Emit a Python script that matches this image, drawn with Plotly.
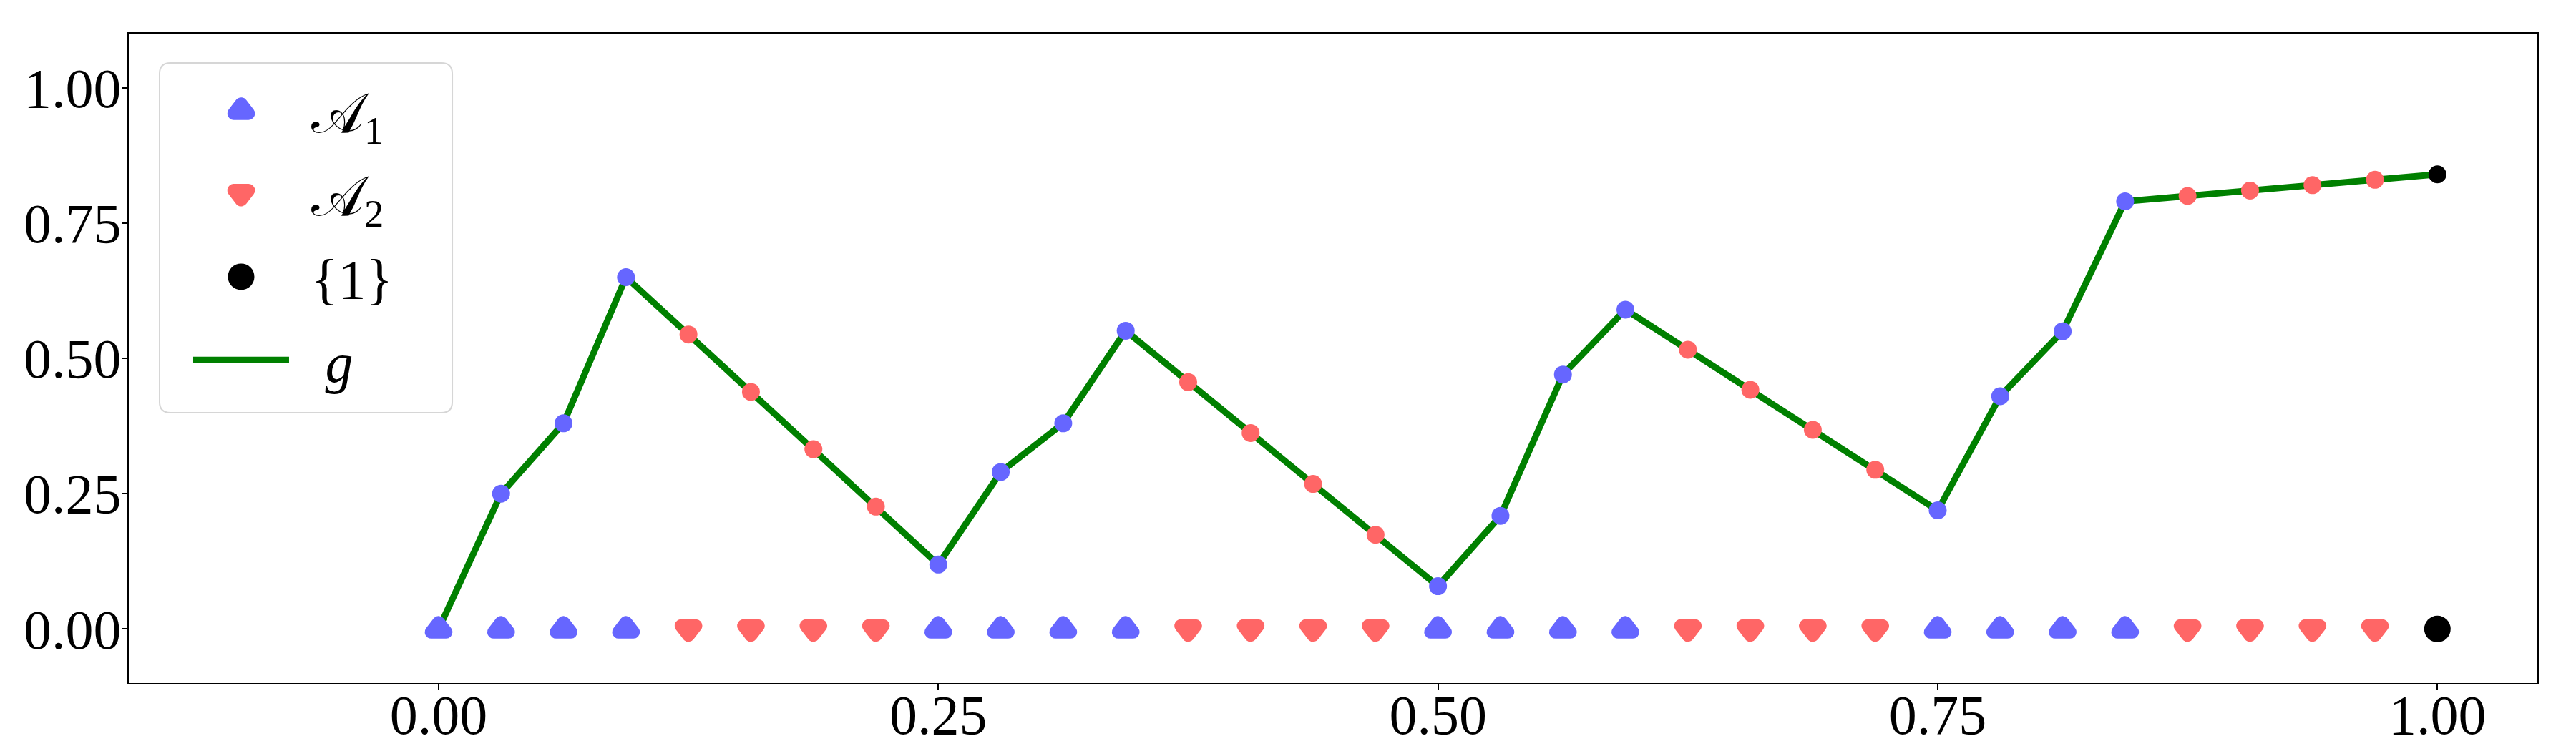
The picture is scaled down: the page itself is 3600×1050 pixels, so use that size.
import plotly.graph_objects as go

# ---- data ----
x_grid = [0.0, 0.03125, 0.0625, 0.09375, 0.125, 0.15625, 0.1875, 0.21875,
          0.25, 0.28125, 0.3125, 0.34375, 0.375, 0.40625, 0.4375, 0.46875,
          0.5, 0.53125, 0.5625, 0.59375, 0.625, 0.65625, 0.6875, 0.71875,
          0.75, 0.78125, 0.8125, 0.84375, 0.875, 0.90625, 0.9375, 0.96875,
          1.0]
g_values = [0.000, 0.250, 0.380, 0.650, 0.544, 0.438, 0.332, 0.226,
            0.119, 0.290, 0.380, 0.551, 0.456, 0.362, 0.268, 0.174,
            0.079, 0.209, 0.470, 0.590, 0.516, 0.442, 0.368, 0.294,
            0.219, 0.430, 0.550, 0.790, 0.800, 0.810, 0.820, 0.830,
            0.840]
membership = ["A1", "A1", "A1", "A1", "A2", "A2", "A2", "A2",
              "A1", "A1", "A1", "A1", "A2", "A2", "A2", "A2",
              "A1", "A1", "A1", "A1", "A2", "A2", "A2", "A2",
              "A1", "A1", "A1", "A1", "A2", "A2", "A2", "A2",
              "one"]
baseline = 0.0
x_ticks = [0.0, 0.25, 0.5, 0.75, 1.0]
y_ticks = [0.0, 0.25, 0.5, 0.75, 1.0]

SP = "\u2004"
names = {"A1": SP + "𝒜<sub>1</sub>", "A2": SP + "𝒜<sub>2</sub>", "one": SP + "{1}"}
colors = {"A1": "#6666ff", "A2": "#ff6666", "one": "#000000"}
base_symbol = {"A1": "triangle-up", "A2": "triangle-down", "one": "circle"}

FONT = "Liberation Serif, DejaVu Serif, serif"

fig = go.Figure()

# g line
fig.add_trace(go.Scatter(x=x_grid, y=g_values, mode="lines", name=SP + " <i>g</i>",
                         line=dict(color="#008000", width=9), legendrank=4,
                         legendgroup="g"))

# markers on the line
for key in ["A1", "A2", "one"]:
    xs = [x for x, m in zip(x_grid, membership) if m == key]
    ys = [y for y, m in zip(g_values, membership) if m == key]
    fig.add_trace(go.Scatter(x=xs, y=ys, mode="markers", showlegend=False,
                             marker=dict(color=colors[key], size=25, line=dict(width=0))))

# markers on the baseline
for rank, key in enumerate(["A1", "A2", "one"]):
    xs = [x for x, m in zip(x_grid, membership) if m == key]
    ys = [baseline for m in membership if m == key]
    if key == "one":
        mk = dict(color=colors[key], size=37, symbol="circle", line=dict(width=0))
    else:
        mk = dict(color=colors[key], size=18, symbol=base_symbol[key],
                  line=dict(width=18, color=colors[key]))
    fig.add_trace(go.Scatter(x=xs, y=ys, mode="markers", name=names[key],
                             marker=mk, legendrank=rank + 1, legendgroup=key))

# legend frame (rounded box) in paper coordinates
bx0, bx1, by0, by1 = 0.01277, 0.1343, 0.4163, 0.9548
rx, ry = 0.0045, 0.0165
frame = (f"M {bx0+rx},{by1} L {bx1-rx},{by1} Q {bx1},{by1} {bx1},{by1-ry} "
         f"L {bx1},{by0+ry} Q {bx1},{by0} {bx1-rx},{by0} L {bx0+rx},{by0} "
         f"Q {bx0},{by0} {bx0},{by0+ry} L {bx0},{by1-ry} Q {bx0},{by1} {bx0+rx},{by1} Z")

fig.update_layout(
    width=3600, height=1050,
    margin=dict(l=180, r=54, t=47, b=95),
    paper_bgcolor="white", plot_bgcolor="white",
    font=dict(family=FONT, size=78, color="black"),
    showlegend=True,
    legend=dict(x=0.02525, y=0.945, xanchor="left", yanchor="top",
                bgcolor="rgba(0,0,0,0)", borderwidth=0,
                font=dict(family=FONT, size=78), itemwidth=134,
                traceorder="grouped", tracegroupgap=12),
    shapes=[dict(type="path", xref="paper", yref="paper", path=frame,
                 line=dict(color="#d6d6d6", width=2), fillcolor="rgba(255,255,255,0.8)",
                 layer="below")],
)
fig.update_xaxes(range=[-0.155, 1.05], tickvals=x_ticks, tickformat=".2f",
                 ticks="outside", ticklen=8, tickwidth=2, tickcolor="black",
                 showline=True, linecolor="black", linewidth=2, mirror=True,
                 showgrid=False, zeroline=False, automargin=False,
                 ticklabelstandoff=-33)
fig.update_yaxes(range=[-0.1, 1.1], tickvals=y_ticks, tickformat=".2f",
                 ticks="outside", ticklen=8, tickwidth=2, tickcolor="black",
                 showline=True, linecolor="black", linewidth=2, mirror=True,
                 showgrid=False, zeroline=False, automargin=False,
                 ticklabelstandoff=-15)

post = """
(function(){
var s = document.createElement('style');
s.innerHTML = 'path.point, path.scatterpts { stroke-linejoin: round; }';
document.head.appendChild(s);
var gd = document.getElementById('{plot_id}');
function fixLegend(){
  var layers = gd.querySelectorAll('.scatterlayer .trace');
  gd.querySelectorAll('.legend .traces').forEach(function(item){
    var dat = item.__data__; if(!dat || !dat[0]) return;
    var tr = dat[0].trace; if(!tr) return;
    var lp = item.querySelector('path.scatterpts'); if(!lp) return;
    var layer = layers[tr.index]; if(!layer) return;
    var pp = layer.querySelector('path.point'); if(!pp) return;
    lp.setAttribute('d', pp.getAttribute('d'));
    lp.style.strokeWidth = pp.style.strokeWidth;
  });
}
try { fixLegend(); } catch(e) {}
if (gd.on) gd.on('plotly_afterplot', function(){ try { fixLegend(); } catch(e) {} });
})();
"""
fig.write_html("out.html", post_script=post)
